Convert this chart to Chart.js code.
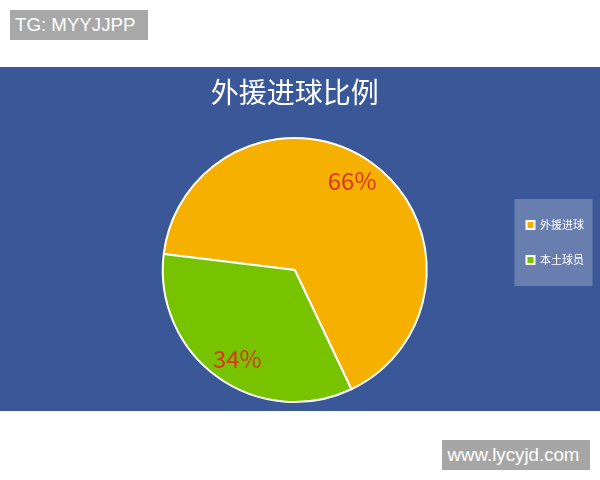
<!DOCTYPE html>
<html>
<head>
<meta charset="utf-8">
<script src="https://cdn.jsdelivr.net/npm/chart.js@4"></script>
<style>
  html, body { margin: 0; padding: 0; background: #fff; width: 600px; height: 480px; overflow: hidden; }
  #tag { position: absolute; left: 10px; top: 10px; width: 138px; height: 30px; background: #a8a8a8;
         color: #fff; font: 18.7px "Liberation Sans", Arial, sans-serif; line-height: 30px; box-sizing: border-box; padding-left: 5px; }
  #band { position: absolute; left: 0; top: 67px; width: 600px; height: 344px; background: #3a5897; }
  #site { position: absolute; left: 442px; top: 440px; width: 148px; height: 30px; background: #a6a6a6; box-sizing: border-box; padding-right: 5px;
          color: #fff; font: 18.7px "Liberation Sans", Arial, sans-serif; line-height: 30px; text-align: center; }
</style>
</head>
<body>
<div id="tag">TG: MYYJJPP</div>
<div id="band"><canvas id="graphique"></canvas></div>
<div id="site">www.lycyjd.com</div>
<script>
// données
const categories = ['外援进球', '本土球员'];
const valeurs = [66, 34];
const couleurs = ['#f5b000', '#78c300'];

const cjk = '"Noto Sans CJK SC", "Noto Sans", sans-serif';

// fond du cadre de la légende
const fondLegende = {
    id: 'fondLegende',
    beforeDraw(chart) {
        const lg = chart.legend;
        if (!lg || !lg.legendHitBoxes || !lg.legendHitBoxes.length) return;
        const boxes = lg.legendHitBoxes;
        const first = boxes[0], last = boxes[boxes.length - 1];
        const ctx = chart.ctx;
        const top = first.top + 5.5 - 26;
        const bottom = last.top + 5.5 + 26;
        ctx.save();
        ctx.fillStyle = 'rgba(255,255,255,0.23)';
        ctx.fillRect(lg.left - 2, top, 78, bottom - top);
        ctx.restore();
    }
};

// pourcentages sur les parts
const etiquettes = {
    id: 'etiquettes',
    afterDatasetsDraw(chart) {
        const ctx = chart.ctx;
        const meta = chart.getDatasetMeta(0);
        const data = chart.data.datasets[0].data;
        const total = data.reduce((a, b) => a + b, 0);
        ctx.save();
        ctx.font = '24px ' + cjk;
        ctx.fillStyle = '#d8361d';
        ctx.textAlign = 'center';
        ctx.textBaseline = 'middle';
        meta.data.forEach((arc, i) => {
            const p = arc.getProps(['x', 'y', 'startAngle', 'endAngle', 'outerRadius'], true);
            const mid = (p.startAngle + p.endAngle) / 2 - 0.05;
            const r = p.outerRadius * 0.8;
            ctx.fillText(Math.round(data[i] / total * 100) + '%', p.x + Math.cos(mid) * r, p.y + Math.sin(mid) * r);
        });
        ctx.restore();
    }
};

const genererLabels = Chart.overrides.pie.plugins.legend.labels.generateLabels;

let context = document.getElementById('graphique').getContext('2d');
var myChart = new Chart(context, {
    type: 'pie',
    data: {
        labels: categories,
        datasets: [{
            data: valeurs,
            backgroundColor: couleurs,
            borderColor: '#ffffff',
            borderWidth: 2
        }]
    },
    options: {
        responsive: true,
        maintainAspectRatio: false,
        animation: false,
        rotation: -83,
        layout: { padding: { top: 11, bottom: 8, left: 73, right: 6 } },
        plugins: {
            title: {
                display: true,
                fullSize: false,
                text: '外援进球比例',
                color: '#ffffff',
                font: { family: cjk, size: 28, weight: 'normal', lineHeight: 1 },
                padding: { top: 0, bottom: 31 }
            },
            legend: {
                position: 'right',
                // titre vide : sert juste à descendre les entrées
                title: { display: true, text: '', font: { size: 10, lineHeight: 1 }, padding: 4 },
                labels: {
                    color: '#ffffff',
                    boxWidth: 8,
                    boxHeight: 8,
                    padding: 10,
                    font: { family: cjk, size: 11, lineHeight: 25 / 11 },
                    // texte en tableau : la hauteur de ligne compte alors dans l'espacement
                    generateLabels(chart) {
                        return genererLabels(chart).map(l => Object.assign(l, { text: [l.text] }));
                    }
                }
            },
            tooltip: { enabled: false }
        }
    },
    plugins: [fondLegende, etiquettes]
});
</script>
</body>
</html>
